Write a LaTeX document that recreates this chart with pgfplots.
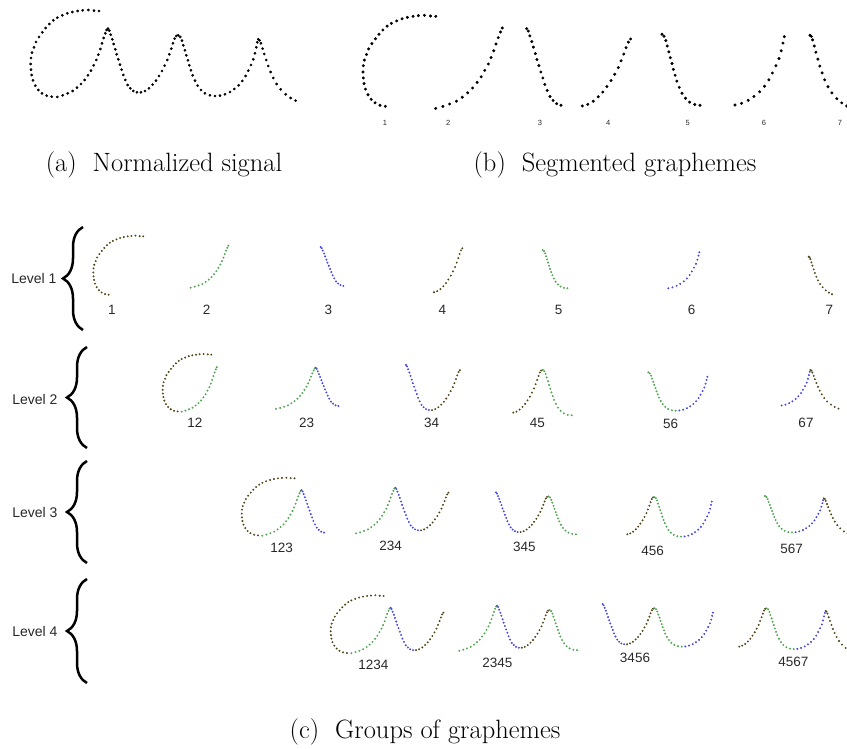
\documentclass[border=0pt]{standalone}
\usepackage{fontspec}
\usepackage{pgfplots}
\pgfplotsset{compat=1.18}
\usepackage{pgfplotstable}
\usetikzlibrary{decorations.pathreplacing}
\newfontfamily\lib{Liberation Sans}
\definecolor{c1}{RGB}{80,70,25}
\definecolor{c2}{RGB}{80,165,80}
\definecolor{c3}{RGB}{70,70,235}
\definecolor{txt}{RGB}{40,40,40}

% canonical signal, segment by segment
\pgfplotstableread{
x y
297 33
282 32
265 30
248 31
233 33
217 36
202 40
187 46
172 53
160 61
148 72
137 84
127 97
117 111
108 126
102 142
96 158
93 174
92 192
93 209
95 225
99 241
106 257
115 270
126 280
140 287
155 290
}\tabA
\pgfplotstableread{
x y
172 291
188 286
203 280
218 273
231 263
243 252
254 240
264 226
273 212
281 196
289 180
295 164
301 147
306 130
311 114
316 100
320 90
}\tabB
\pgfplotstableread{
x y
324 86
328 92
332 104
337 118
341 132
346 148
350 163
355 178
360 194
365 209
370 225
376 240
383 255
391 265
400 273
411 277
}\tabC
\pgfplotstableread{
x y
423 277
435 273
447 265
458 254
468 242
477 228
486 213
494 197
502 180
508 163
514 146
519 130
524 116
529 108
}\tabD
\pgfplotstableread{
x y
535 106
541 111
546 122
550 136
555 151
559 166
564 181
568 196
573 211
578 226
585 242
593 257
603 270
615 280
630 286
645 288
}\tabE
\pgfplotstableread{
x y
660 287
675 283
690 276
703 267
716 256
727 243
737 228
745 212
753 195
760 178
765 160
769 142
772 127
}\tabF
\pgfplotstableread{
x y
775 118
779 121
783 130
788 146
793 162
799 180
805 198
812 216
820 234
830 252
842 268
857 283
872 294
887 302
}\tabG

\pgfplotsset{
  pa/.style={black, mark size=1.15pt},
  pb/.style={black, mark size=1.3pt},
  pc1/.style={c1, mark size=0.75pt},
  pc2/.style={c2, mark size=0.75pt},
  pc3/.style={c3, mark size=0.75pt},
}
% #1 table, #2 style, #3 #4 reference origin, #5 #6 placement, #7 #8 scales
\newcommand{\segplot}[8]{%
  \addplot[only marks, mark=*, #2] table[x expr={#5+#7*(\thisrow{x}-#3)}, y expr={#6+#8*(\thisrow{y}-#4)}] {#1};}

\begin{document}
\begin{tikzpicture}
\begin{axis}[scale only axis, width=847pt, height=749pt,
  xmin=0, xmax=847, ymin=0, ymax=749, y dir=reverse,
  hide axis, clip=false]
% (a)
\segplot{\tabA}{pa}{0}{0}{0}{0}{0.3333}{0.3333}
\segplot{\tabB}{pa}{0}{0}{0}{0}{0.3333}{0.3333}
\segplot{\tabC}{pa}{0}{0}{0}{0}{0.3333}{0.3333}
\segplot{\tabD}{pa}{0}{0}{0}{0}{0.3333}{0.3333}
\segplot{\tabE}{pa}{0}{0}{0}{0}{0.3333}{0.3333}
\segplot{\tabF}{pa}{0}{0}{0}{0}{0.3333}{0.3333}
\segplot{\tabG}{pa}{0}{0}{0}{0}{0.3333}{0.3333}
% (b)
\segplot{\tabA}{pb}{92}{30}{363}{15.3}{0.355}{0.35}
\segplot{\tabB}{pb}{172}{90}{435.7}{28}{0.45}{0.40}
\segplot{\tabC}{pb}{324}{86}{526.7}{28.7}{0.394}{0.401}
\segplot{\tabD}{pb}{423}{108}{582.3}{39}{0.456}{0.396}
\segplot{\tabE}{pb}{535}{106}{662}{34.3}{0.345}{0.39}
\segplot{\tabF}{pb}{660}{127}{735}{36.7}{0.44}{0.427}
\segplot{\tabG}{pb}{775}{118}{810}{35.3}{0.327}{0.384}
% (c) level 1
\segplot{\tabA}{pc1}{92}{30}{93.3}{235.7}{0.244}{0.227}
\segplot{\tabB}{pc2}{172}{90}{190.7}{245.7}{0.254}{0.209}
\segplot{\tabC}{pc3}{324}{86}{320.7}{247}{0.26}{0.204}
\segplot{\tabD}{pc1}{423}{108}{434}{248.3}{0.267}{0.26}
\segplot{\tabE}{pc2}{535}{106}{542.7}{250}{0.224}{0.21}
\segplot{\tabF}{pc3}{660}{127}{668.3}{252.3}{0.277}{0.225}
\segplot{\tabG}{pc1}{775}{118}{808.7}{256.7}{0.208}{0.204}
% level 2
\segplot{\tabA}{pc1}{92}{30}{162.7}{354}{0.237}{0.221}
\segplot{\tabB}{pc2}{92}{30}{162.7}{354}{0.237}{0.221}
\segplot{\tabB}{pc2}{172}{86}{276}{367.7}{0.261}{0.201}
\segplot{\tabC}{pc3}{172}{86}{276}{367.7}{0.261}{0.201}
\segplot{\tabC}{pc3}{324}{86}{406}{365}{0.263}{0.236}
\segplot{\tabD}{pc1}{324}{86}{406}{365}{0.263}{0.236}
\segplot{\tabD}{pc1}{423}{106}{513.3}{370}{0.263}{0.249}
\segplot{\tabE}{pc2}{423}{106}{513.3}{370}{0.263}{0.249}
\segplot{\tabE}{pc2}{535}{106}{648.3}{372.3}{0.249}{0.211}
\segplot{\tabF}{pc3}{535}{106}{648.3}{372.3}{0.249}{0.211}
\segplot{\tabF}{pc3}{660}{118}{781.7}{370}{0.25}{0.21}
\segplot{\tabG}{pc1}{660}{118}{781.7}{370}{0.25}{0.21}
% level 3
\segplot{\tabA}{pc1}{92}{30}{241.7}{477.7}{0.258}{0.222}
\segplot{\tabB}{pc2}{92}{30}{241.7}{477.7}{0.258}{0.222}
\segplot{\tabC}{pc3}{92}{30}{241.7}{477.7}{0.258}{0.222}
\segplot{\tabB}{pc2}{172}{86}{356}{487.7}{0.259}{0.223}
\segplot{\tabC}{pc3}{172}{86}{356}{487.7}{0.259}{0.223}
\segplot{\tabD}{pc1}{172}{86}{356}{487.7}{0.259}{0.223}
\segplot{\tabC}{pc3}{324}{86}{496}{492.3}{0.249}{0.208}
\segplot{\tabD}{pc1}{324}{86}{496}{492.3}{0.249}{0.208}
\segplot{\tabE}{pc2}{324}{86}{496}{492.3}{0.249}{0.208}
\segplot{\tabD}{pc1}{423}{106}{627.3}{497}{0.242}{0.218}
\segplot{\tabE}{pc2}{423}{106}{627.3}{497}{0.242}{0.218}
\segplot{\tabF}{pc3}{423}{106}{627.3}{497}{0.242}{0.218}
\segplot{\tabE}{pc2}{535}{106}{765}{496}{0.245}{0.2}
\segplot{\tabF}{pc3}{535}{106}{765}{496}{0.245}{0.2}
\segplot{\tabG}{pc1}{535}{106}{765}{496}{0.245}{0.2}
% level 4
\segplot{\tabA}{pc1}{92}{30}{330.7}{595.3}{0.258}{0.222}
\segplot{\tabB}{pc2}{92}{30}{330.7}{595.3}{0.258}{0.222}
\segplot{\tabC}{pc3}{92}{30}{330.7}{595.3}{0.258}{0.222}
\segplot{\tabD}{pc1}{92}{30}{330.7}{595.3}{0.258}{0.222}
\segplot{\tabB}{pc2}{172}{86}{459.3}{605.7}{0.249}{0.22}
\segplot{\tabC}{pc3}{172}{86}{459.3}{605.7}{0.249}{0.22}
\segplot{\tabD}{pc1}{172}{86}{459.3}{605.7}{0.249}{0.22}
\segplot{\tabE}{pc2}{172}{86}{459.3}{605.7}{0.249}{0.22}
\segplot{\tabC}{pc3}{324}{86}{602.7}{604}{0.246}{0.211}
\segplot{\tabD}{pc1}{324}{86}{602.7}{604}{0.246}{0.211}
\segplot{\tabE}{pc2}{324}{86}{602.7}{604}{0.246}{0.211}
\segplot{\tabF}{pc3}{324}{86}{602.7}{604}{0.246}{0.211}
\segplot{\tabD}{pc1}{423}{106}{739.3}{608.3}{0.245}{0.224}
\segplot{\tabE}{pc2}{423}{106}{739.3}{608.3}{0.245}{0.224}
\segplot{\tabF}{pc3}{423}{106}{739.3}{608.3}{0.245}{0.224}
\segplot{\tabG}{pc1}{423}{106}{739.3}{608.3}{0.245}{0.224}

% panel (b) numbers
\begin{scope}[every node/.style={font=\lib\fontsize{7.5}{8}\selectfont, text=txt}]
\node at (axis cs:385,123.3) {1};
\node at (axis cs:448.3,123.3) {2};
\node at (axis cs:540,123.3) {3};
\node at (axis cs:608.3,123.3) {4};
\node at (axis cs:687.7,123.3) {5};
\node at (axis cs:764,123.3) {6};
\node at (axis cs:840,123.3) {7};
\end{scope}
% panel (c) labels
\begin{scope}[every node/.style={font=\lib\fontsize{13.5}{15}\selectfont, text=txt}]
\node at (axis cs:112,310) {1};
\node at (axis cs:206.7,310) {2};
\node at (axis cs:328.3,310) {3};
\node at (axis cs:442.3,310) {4};
\node at (axis cs:558.7,310) {5};
\node at (axis cs:691.7,310) {6};
\node at (axis cs:829.3,310) {7};
\node at (axis cs:195,422.7) {12};
\node at (axis cs:306.7,422.7) {23};
\node at (axis cs:431.7,422.7) {34};
\node at (axis cs:537.3,422.7) {45};
\node at (axis cs:670.7,424.3) {56};
\node at (axis cs:806,422.7) {67};
\node at (axis cs:281.7,547.7) {123};
\node at (axis cs:390.7,545.7) {234};
\node at (axis cs:524.3,546.7) {345};
\node at (axis cs:652.7,551) {456};
\node at (axis cs:791.7,549) {567};
\node at (axis cs:373.3,665) {1234};
\node at (axis cs:497.3,663.3) {2345};
\node at (axis cs:635,658.3) {3456};
\node at (axis cs:793.3,661.7) {4567};
\end{scope}
\begin{scope}[every node/.style={font=\lib\fontsize{14}{16}\selectfont, text=txt, anchor=east}]
\node at (axis cs:60,278.3) {Level 1};
\node at (axis cs:61,399.3) {Level 2};
\node at (axis cs:61,512.3) {Level 3};
\node at (axis cs:61,631.7) {Level 4};
\end{scope}
\begin{scope}[decoration={brace, amplitude=20pt}, line width=2.5pt]
\draw[decorate] (axis cs:83,330) -- (axis cs:83,227);
\draw[decorate] (axis cs:87,448) -- (axis cs:87,347);
\draw[decorate] (axis cs:87,563) -- (axis cs:87,461);
\draw[decorate] (axis cs:87,683) -- (axis cs:87,579);
\end{scope}
% captions
\begin{scope}[every node/.style={font=\fontsize{26.5}{30}\selectfont, anchor=base}]
\node at (axis cs:164,171.5) {(a)\ \ Normalized signal};
\node at (axis cs:615,171.5) {(b)\ \ Segmented graphemes};
\node at (axis cs:425,738) {(c)\ \ Groups of graphemes};
\end{scope}
\end{axis}
\pgfresetboundingbox
\path[use as bounding box] (current axis.south west) rectangle (current axis.north east);
\end{tikzpicture}
\end{document}
